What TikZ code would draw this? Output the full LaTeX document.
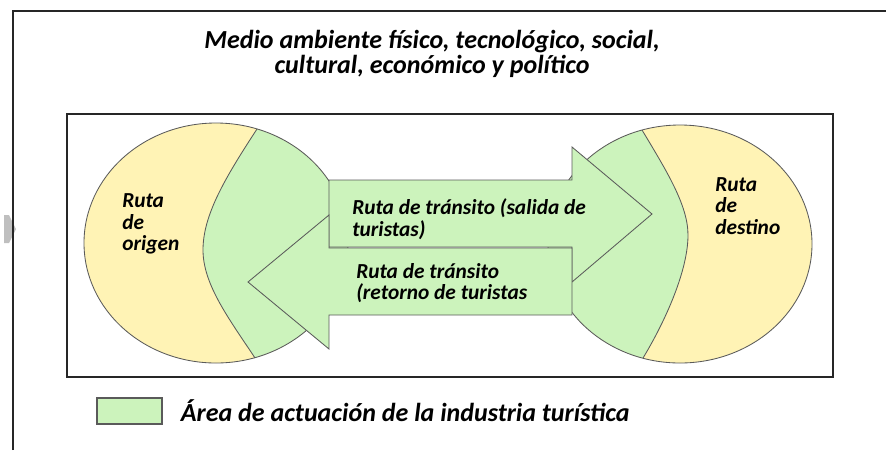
\documentclass[tikz,border=0pt]{standalone}
\usepackage{fontspec}
\setmainfont{Carlito}
\usetikzlibrary{positioning}
\definecolor{ruta}{RGB}{255,243,181}
\definecolor{area}{RGB}{204,243,188}
\definecolor{borde}{RGB}{90,90,90}

\begin{document}
\begin{tikzpicture}[x=0.025cm, y=-0.025cm,
  marco/.style={line width=1.5pt, black!85},
  zona/.style={draw=borde, line width=0.6pt},
  flecha/.style={fill=area, draw=borde, line width=0.6pt, line join=miter},
  rotulo/.style={font=\fontsize{15.2}{15.5}\selectfont\bfseries\itshape, text=black, align=left, inner sep=0pt, anchor=west},
  titulo/.style={font=\fontsize{18.5}{17.5}\selectfont\bfseries\itshape, text=black, align=center, inner sep=0pt},
  muestra/.style={draw=borde, fill=area, line width=1pt, minimum width=46pt, minimum height=18.5pt, inner sep=0pt}]

\useasboundingbox (0,0) rectangle (886,450);

\fill[black!25] (4,215) -- (9,215) -- (16,229) -- (9,243) -- (4,243) -- cycle;
\draw[marco] (13,450) -- (13,11) -- (886,11);
\draw[marco] (67,114) rectangle (833,377);

% ruta de origen
\fill[ruta] (216,243) ellipse [x radius=132, y radius=120];
\begin{scope}
  \clip (216,243) ellipse [x radius=132, y radius=120];
  \fill[area] (257,129) .. controls (225,178) and (203,215) .. (203,250) .. controls (203,285) and (230,320) .. (255,358) -- (255,380) -- (360,380) -- (360,100) -- (257,100) -- cycle;
\end{scope}
\draw[zona] (257,129) .. controls (225,178) and (203,215) .. (203,250) .. controls (203,285) and (230,320) .. (255,358);
\draw[zona] (216,243) ellipse [x radius=132, y radius=120];

% ruta de destino
\fill[ruta] (680,244) ellipse [x radius=132, y radius=119];
\begin{scope}
  \clip (680,244) ellipse [x radius=132, y radius=119];
  \fill[area] (642,130) .. controls (666,170) and (688,205) .. (688,235) .. controls (688,270) and (666,320) .. (643,358) -- (643,380) -- (540,380) -- (540,100) -- (642,100) -- cycle;
\end{scope}
\draw[zona] (642,130) .. controls (666,170) and (688,205) .. (688,235) .. controls (688,270) and (666,320) .. (643,358);
\draw[zona] (680,244) ellipse [x radius=132, y radius=119];

% rutas de transito
\draw[flecha] (329,180) -- (572,180) -- (572,147) -- (652,214) -- (572,282) -- (572,247) -- (329,247) -- cycle;
\draw[flecha] (572,248) -- (329,248) -- (329,215) -- (248,282) -- (329,349) -- (329,315) -- (572,315) -- cycle;

\node[titulo] (medio) at (432,54) {Medio ambiente físico, tecnológico, social,\\cultural, económico y político};
\node[rotulo] (origen) at (122,224) {Ruta\\de\\origen};
\node[rotulo] (destino) at (715,206) {Ruta\\de\\destino};
\node[rotulo] (salida) at (352,219) {Ruta de tránsito (salida de\\turistas)};
\node[rotulo] (retorno) at (356,283) {Ruta de tránsito\\(retorno de turistas};

\node[muestra] (muestra) at (129.5,411) {};
\node[titulo, anchor=west, right=12.8pt of muestra] (leyenda) {Área de actuación de la industria turística};
\end{tikzpicture}
\end{document}
